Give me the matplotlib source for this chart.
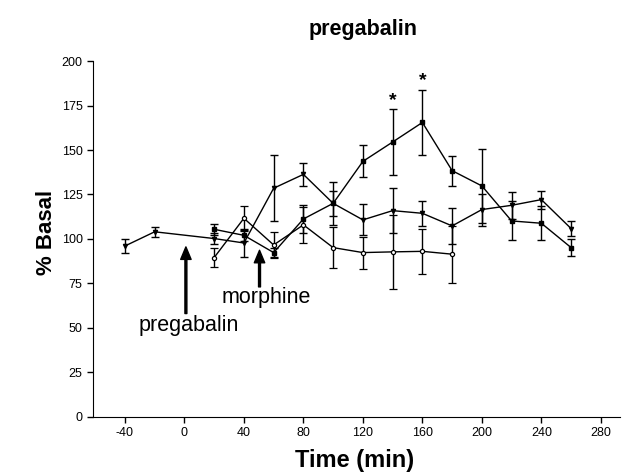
import matplotlib
matplotlib.use("Agg")
import matplotlib.pyplot as plt

plt.rcParams['font.family'] = ['Liberation Sans', 'DejaVu Sans']

# group with the significant peak (filled squares)
time_a = [20, 40, 60, 80, 100, 120, 140, 160, 180, 200, 220, 240, 260]
mean_a = [105.4, 102, 92.3, 111.2, 120, 143.6, 154.5, 165.5, 138.4, 129.8, 110.1, 108.8, 95.1]
sem_a = [3, 3, 2.5, 8, 12, 9, 18.5, 18.5, 8.5, 21, 11, 9.6, 5]

# group starting at baseline (filled triangles)
time_b = [-40, -20, 20, 40, 60, 80, 100, 120, 140, 160, 180, 200, 220, 240, 260]
mean_b = [96, 104, 100.2, 97.7, 128.5, 136.3, 120, 110.7, 115.9, 114.4, 107.3, 116.5, 118.9, 122.1, 105.8]
sem_b = [4, 2.7, 3, 8, 18.5, 6.5, 7, 8.7, 12.6, 7, 10, 9, 7.6, 5, 4.2]

# control group (open circles)
time_c = [20, 40, 60, 80, 100, 120, 140, 160, 180]
mean_c = [89.5, 111.6, 96.6, 107.9, 95.1, 92.3, 92.7, 93, 91.4]
sem_c = [5.5, 7, 7.5, 10, 11.5, 9, 21, 12.7, 16]

star_times = [140, 160]
star_y = [177.6, 188.8]

fig = plt.figure(figsize=(6.29, 4.74), dpi=100)
ax = fig.add_axes([0.148, 0.121, 0.838, 0.750])

common = dict(color='black', ecolor='black', elinewidth=1, capsize=3, capthick=1, linewidth=1)
ax.errorbar(time_a, mean_a, yerr=sem_a, marker='s', markersize=3.3, **common)
ax.errorbar(time_b, mean_b, yerr=sem_b, marker='v', markersize=3, **common)
ax.errorbar(time_c, mean_c, yerr=sem_c, marker='o', markersize=3,
            markerfacecolor='white', markeredgecolor='black', markeredgewidth=0.9, **common)

for t, y in zip(star_times, star_y):
    ax.text(t, y, '*', ha='center', va='center', fontsize=14, fontweight='bold')

# drug arrows
ax.annotate('', xy=(1, 95.5), xytext=(1, 58),
            arrowprops=dict(facecolor='black', edgecolor='black', width=1.4,
                            headwidth=7.5, headlength=9, shrink=0))
ax.text(3, 51.5, 'pregabalin', ha='center', va='center', fontsize=15.5)
ax.annotate('', xy=(50.5, 93.6), xytext=(50.5, 73),
            arrowprops=dict(facecolor='black', edgecolor='black', width=1.4,
                            headwidth=7.5, headlength=9, shrink=0))
ax.text(55, 67, 'morphine', ha='center', va='center', fontsize=15.5)

ax.set_xlim(-61.4, 293)
ax.set_ylim(0, 200)
ax.set_xticks([-40, 0, 40, 80, 120, 160, 200, 240, 280])
ax.set_xticklabels(['-40', '0', '40', '80', '120', '160', '200', '240', '280'])
ax.set_yticks([0, 25, 50, 75, 100, 125, 150, 175, 200])
ax.tick_params(direction='out', length=4, width=1, labelsize=9)
ax.spines['top'].set_visible(False)
ax.spines['right'].set_visible(False)

fig.text(363 / 629, 1 - 30 / 474, 'pregabalin', ha='center', va='center',
         fontsize=15.5, fontweight='bold')
fig.text(355 / 629, 1 - 460 / 474, 'Time (min)', ha='center', va='center',
         fontsize=17, fontweight='bold')
fig.text(47 / 629, 1 - 232 / 474, '% Basal', ha='center', va='center',
         rotation=90, fontsize=16, fontweight='bold')

fig.savefig('out.png', dpi=100)
